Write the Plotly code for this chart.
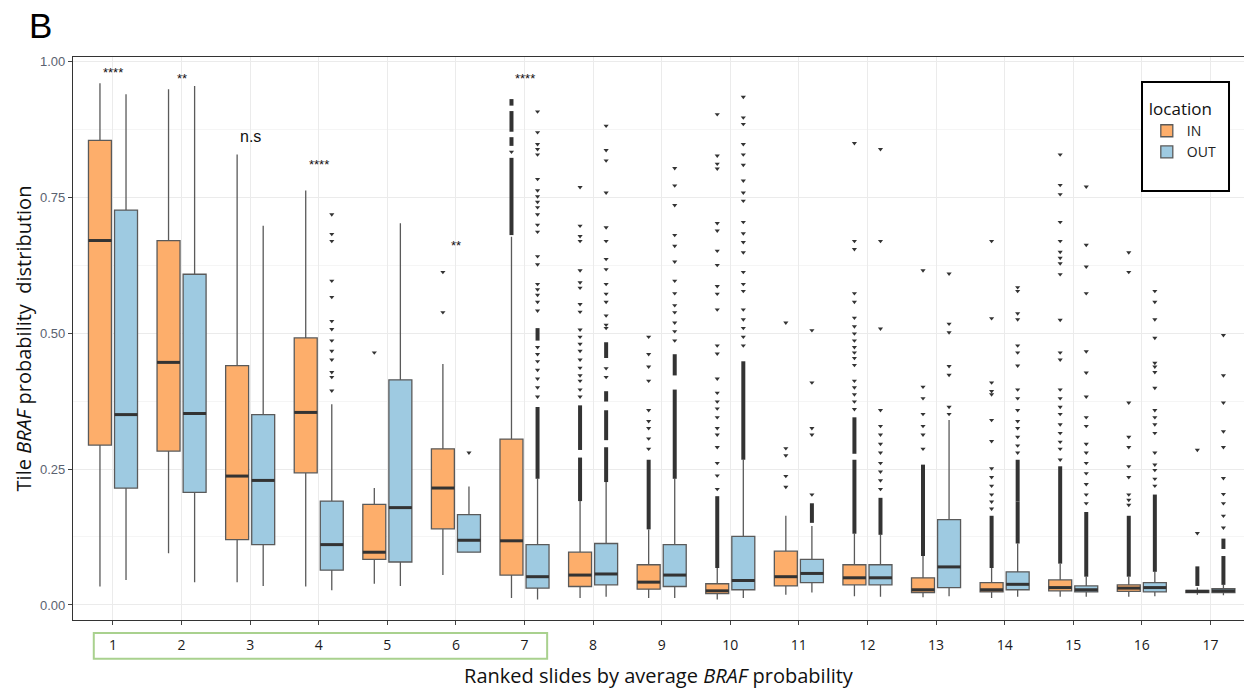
import plotly.graph_objects as go

categories = list(range(1, 18))
tick_labels = [str(c) for c in categories]

# IN group box statistics
in_lo  = [0.034, 0.095, 0.042, 0.034, 0.039, 0.055, 0.013, 0.013, 0.013, 0.010, 0.019, 0.016, 0.014, 0.013, 0.015, 0.015, 0.019]
in_q1  = [0.294, 0.283, 0.120, 0.243, 0.084, 0.140, 0.055, 0.034, 0.029, 0.021, 0.035, 0.037, 0.023, 0.024, 0.026, 0.025, 0.023]
in_med = [0.670, 0.446, 0.237, 0.354, 0.097, 0.215, 0.118, 0.055, 0.042, 0.026, 0.052, 0.050, 0.028, 0.028, 0.032, 0.031, 0.025]
in_q3  = [0.854, 0.670, 0.440, 0.491, 0.185, 0.287, 0.305, 0.097, 0.074, 0.039, 0.099, 0.074, 0.050, 0.041, 0.046, 0.037, 0.027]
in_hi  = [0.959, 0.948, 0.828, 0.762, 0.215, 0.443, 0.677, 0.191, 0.139, 0.068, 0.164, 0.131, 0.090, 0.068, 0.076, 0.052, 0.032]

# OUT group box statistics
out_lo  = [0.046, 0.042, 0.035, 0.027, 0.035, 0.097, 0.010, 0.015, 0.013, 0.013, 0.023, 0.015, 0.016, 0.015, 0.015, 0.016, 0.018]
out_q1  = [0.215, 0.207, 0.111, 0.064, 0.079, 0.097, 0.031, 0.037, 0.034, 0.028, 0.041, 0.037, 0.032, 0.028, 0.024, 0.024, 0.023]
out_med = [0.350, 0.352, 0.229, 0.111, 0.179, 0.119, 0.052, 0.057, 0.055, 0.045, 0.058, 0.050, 0.070, 0.038, 0.028, 0.032, 0.026]
out_q3  = [0.726, 0.608, 0.350, 0.191, 0.414, 0.166, 0.111, 0.113, 0.111, 0.126, 0.084, 0.074, 0.157, 0.061, 0.035, 0.041, 0.030]
out_hi  = [0.939, 0.954, 0.697, 0.369, 0.702, 0.218, 0.232, 0.226, 0.232, 0.267, 0.145, 0.129, 0.340, 0.113, 0.052, 0.061, 0.037]

# Individual outliers (sparse) per slide
in_outliers = [
    [], [], [], [],
    [0.464],
    [0.612, 0.538],
    [0.833],
    [0.383, 0.396, 0.412, 0.422, 0.436, 0.451, 0.467, 0.480, 0.493, 0.506, 0.539, 0.553, 0.583, 0.593, 0.615, 0.669, 0.678, 0.697, 0.768],
    [0.287, 0.306, 0.325, 0.338, 0.358, 0.412, 0.438, 0.461, 0.493],
    [0.213, 0.238, 0.261, 0.290, 0.313, 0.325, 0.345, 0.361, 0.374, 0.390, 0.416, 0.462, 0.477, 0.543, 0.572, 0.586, 0.625, 0.651, 0.688, 0.702, 0.802, 0.811, 0.826, 0.902],
    [0.217, 0.237, 0.275, 0.288, 0.519],
    [0.360, 0.374, 0.387, 0.400, 0.412, 0.441, 0.454, 0.464, 0.474, 0.486, 0.499, 0.512, 0.528, 0.557, 0.573, 0.654, 0.669, 0.849],
    [0.287, 0.313, 0.329, 0.351, 0.380, 0.401, 0.615],
    [0.177, 0.190, 0.203, 0.219, 0.235, 0.251, 0.301, 0.340, 0.387, 0.393, 0.409, 0.527, 0.669],
    [0.267, 0.287, 0.300, 0.316, 0.332, 0.351, 0.364, 0.380, 0.396, 0.451, 0.464, 0.524, 0.608, 0.628, 0.638, 0.649, 0.669, 0.704, 0.755, 0.772, 0.828],
    [0.184, 0.193, 0.203, 0.235, 0.255, 0.290, 0.309, 0.372, 0.612, 0.648],
    [0.132, 0.285],
]
out_outliers = [
    [], [], [],
    [0.718, 0.682, 0.669, 0.596, 0.566, 0.522, 0.507, 0.486, 0.467, 0.451, 0.428, 0.419, 0.394],
    [],
    [0.280],
    [0.907, 0.869, 0.847, 0.838, 0.828, 0.783, 0.762, 0.751, 0.741, 0.731, 0.718, 0.699, 0.686, 0.641, 0.626, 0.590, 0.580, 0.570, 0.557, 0.541, 0.474, 0.461, 0.448, 0.432, 0.416, 0.400, 0.383],
    [0.419, 0.435, 0.509, 0.515, 0.532, 0.557, 0.572, 0.590, 0.617, 0.636, 0.669, 0.694, 0.758, 0.817, 0.836, 0.881],
    [0.486, 0.503, 0.519, 0.538, 0.551, 0.573, 0.596, 0.631, 0.660, 0.680, 0.735, 0.771, 0.803],
    [0.477, 0.493, 0.509, 0.525, 0.543, 0.577, 0.590, 0.612, 0.648, 0.667, 0.683, 0.704, 0.743, 0.758, 0.780, 0.809, 0.828, 0.847, 0.884, 0.896, 0.934],
    [0.203, 0.313, 0.325, 0.409, 0.505],
    [0.213, 0.229, 0.245, 0.261, 0.280, 0.296, 0.313, 0.329, 0.358, 0.508, 0.669, 0.838],
    [0.351, 0.364, 0.423, 0.439, 0.501, 0.517, 0.609],
    [0.280, 0.293, 0.309, 0.325, 0.338, 0.358, 0.380, 0.396, 0.440, 0.464, 0.477, 0.525, 0.536, 0.577, 0.584],
    [0.187, 0.203, 0.222, 0.242, 0.261, 0.280, 0.296, 0.329, 0.345, 0.383, 0.427, 0.466, 0.573, 0.622, 0.662, 0.769],
    [0.219, 0.232, 0.248, 0.258, 0.280, 0.316, 0.332, 0.345, 0.358, 0.399, 0.428, 0.438, 0.445, 0.491, 0.525, 0.557, 0.577],
    [0.142, 0.164, 0.187, 0.204, 0.233, 0.290, 0.319, 0.372, 0.422, 0.496],
]

# Runs of overlapping outliers (low, high) per slide
in_dense = [
    [], [], [], [], [], [],
    [(0.918, 0.930), (0.870, 0.908), (0.844, 0.860), (0.680, 0.822)],
    [(0.191, 0.271), (0.285, 0.367)],
    [(0.139, 0.267)],
    [(0.068, 0.200)],
    [],
    [(0.131, 0.267), (0.278, 0.345)],
    [(0.090, 0.258)],
    [(0.068, 0.164)],
    [(0.076, 0.255)],
    [(0.052, 0.164)],
    [(0.035, 0.071)],
]
out_dense = [
    [], [], [], [], [], [],
    [(0.486, 0.509), (0.232, 0.364)],
    [(0.226, 0.290), (0.303, 0.358), (0.374, 0.393), (0.454, 0.483)],
    [(0.232, 0.396), (0.422, 0.461)],
    [(0.267, 0.448)],
    [(0.151, 0.187)],
    [(0.129, 0.197)],
    [],
    [(0.113, 0.190), (0.190, 0.267)],
    [(0.052, 0.171)],
    [(0.061, 0.203)],
    [(0.037, 0.090), (0.103, 0.122)],
]

sig_cats = [1, 2, 3, 4, 6, 7]
sig_labels = ["****", "**", "n.s", "****", "**", "****"]
sig_y = [0.978, 0.968, 0.862, 0.810, 0.660, 0.968]

groups = ["IN", "OUT"]
fills = {"IN": "#FDAE6B", "OUT": "#9ECAE1"}
offsets = {"IN": -0.19, "OUT": 0.19}
box_w = 0.335

stats = {
    "IN": (in_lo, in_q1, in_med, in_q3, in_hi, in_outliers, in_dense),
    "OUT": (out_lo, out_q1, out_med, out_q3, out_hi, out_outliers, out_dense),
}

fig = go.Figure()
for g in groups:
    lo, q1, med, q3, hi, outl, dense = stats[g]
    xs = [c + offsets[g] for c in categories]
    fig.add_trace(go.Box(
        name=g, x=xs, q1=q1, median=med, q3=q3, lowerfence=lo, upperfence=hi,
        width=box_w, fillcolor=fills[g], line=dict(color="#5a5a5a", width=1.3),
        whiskerwidth=0, boxpoints=False, legendgroup=g, showlegend=True,
        hoverinfo="skip",
    ))
    mx, my = [], []
    for x, m in zip(xs, med):
        mx += [x - box_w / 2, x + box_w / 2, None]
        my += [m, m, None]
    fig.add_trace(go.Scatter(x=mx, y=my, mode="lines", line=dict(color="#333333", width=3),
                             showlegend=False, hoverinfo="skip"))
    dx, dy = [], []
    for x, runs in zip(xs, dense):
        for a, b in runs:
            dx += [x, x, None]
            dy += [a, b, None]
    fig.add_trace(go.Scatter(x=dx, y=dy, mode="lines", line=dict(color="#333333", width=4),
                             showlegend=False, hoverinfo="skip"))
    px, py = [], []
    for x, pts in zip(xs, outl):
        px += [x] * len(pts)
        py += pts
    fig.add_trace(go.Scatter(x=px, y=py, mode="markers",
                             marker=dict(symbol="triangle-down", size=4.5, color="#333333", line=dict(width=0)),
                             showlegend=False, hoverinfo="skip"))

for c, lab, y in zip(sig_cats, sig_labels, sig_y):
    fig.add_annotation(x=c, y=y, xref="x", yref="y", text=lab, showarrow=False,
                       font=dict(family="Liberation Sans", size=16 if lab == "n.s" else 13, color="#111111"))

# Panel label
fig.add_annotation(x=-0.0383, y=1.056, xref="paper", yref="paper", text="B", showarrow=False,
                   xanchor="left", yanchor="middle", borderpad=0,
                   font=dict(family="Liberation Sans", size=35, color="#000000"))

# green highlight box around top-7 slide labels
fig.add_shape(type="rect", xref="x", yref="paper", x0=1 - 0.28, x1=7 + 0.33, y0=-0.069, y1=-0.023,
              line=dict(color="#A9D18E", width=2), fillcolor="rgba(0,0,0,0)", layer="above")

# legend frame
fig.add_shape(type="rect", xref="paper", yref="paper", x0=0.9129, x1=0.9872, y0=0.762, y1=0.9556,
              line=dict(color="#000000", width=2), fillcolor="white", layer="above")

fig.update_layout(
    width=1244, height=690,
    margin=dict(l=73, r=0, t=57, b=70),
    paper_bgcolor="white", plot_bgcolor="white",
    boxmode="overlay",
    font=dict(family="Open Sans", color="#222222"),
    legend=dict(
        title=dict(text="location", font=dict(family="Open Sans", size=17, color="#111111")),
        font=dict(family="Open Sans", size=14, color="#222222"),
        x=0.917, y=0.936, xanchor="left", yanchor="top",
        borderwidth=0, bgcolor="rgba(0,0,0,0)",
        tracegroupgap=0, itemwidth=30,
    ),
    showlegend=True,
)
fig.update_xaxes(
    range=[0.417, 17.49], tickmode="array", tickvals=categories, ticktext=tick_labels,
    showgrid=True, gridcolor="#EBEBEB", gridwidth=1, zeroline=False,
    showline=True, linecolor="#333333", linewidth=1.2, mirror=True,
    ticks="outside", ticklen=4, tickcolor="#444444", ticklabelstandoff=8,
    tickfont=dict(family="Open Sans", size=14, color="#1a1a1a"),
    title=dict(text="Ranked slides by average <i>BRAF</i> probability",
               font=dict(family="Open Sans", size=20, color="#111111"), standoff=16),
)
fig.update_yaxes(
    range=[-0.0276, 1.0074], tickmode="array", tickvals=[0, 0.25, 0.5, 0.75, 1.0],
    ticktext=["0.00", "0.25", "0.50", "0.75", "1.00"],
    showgrid=True, gridcolor="#EBEBEB", gridwidth=1, zeroline=False,
    minor=dict(tickmode="array", tickvals=[0.125, 0.375, 0.625, 0.875], showgrid=True, gridcolor="#F5F5F5", ticks=""),
    showline=True, linecolor="#333333", linewidth=1.2, mirror=False,
    ticks="outside", ticklen=4, tickcolor="#444444",
    tickfont=dict(family="Liberation Sans", size=13, color="#5A6270"),
    title=dict(text="Tile <i>BRAF</i> probability  distribution",
               font=dict(family="Open Sans", size=20, color="#111111"), standoff=2),
)

fig.write_html("out.html", config={"displayModeBar": False},
               post_script="document.body.style.margin='0px';")
